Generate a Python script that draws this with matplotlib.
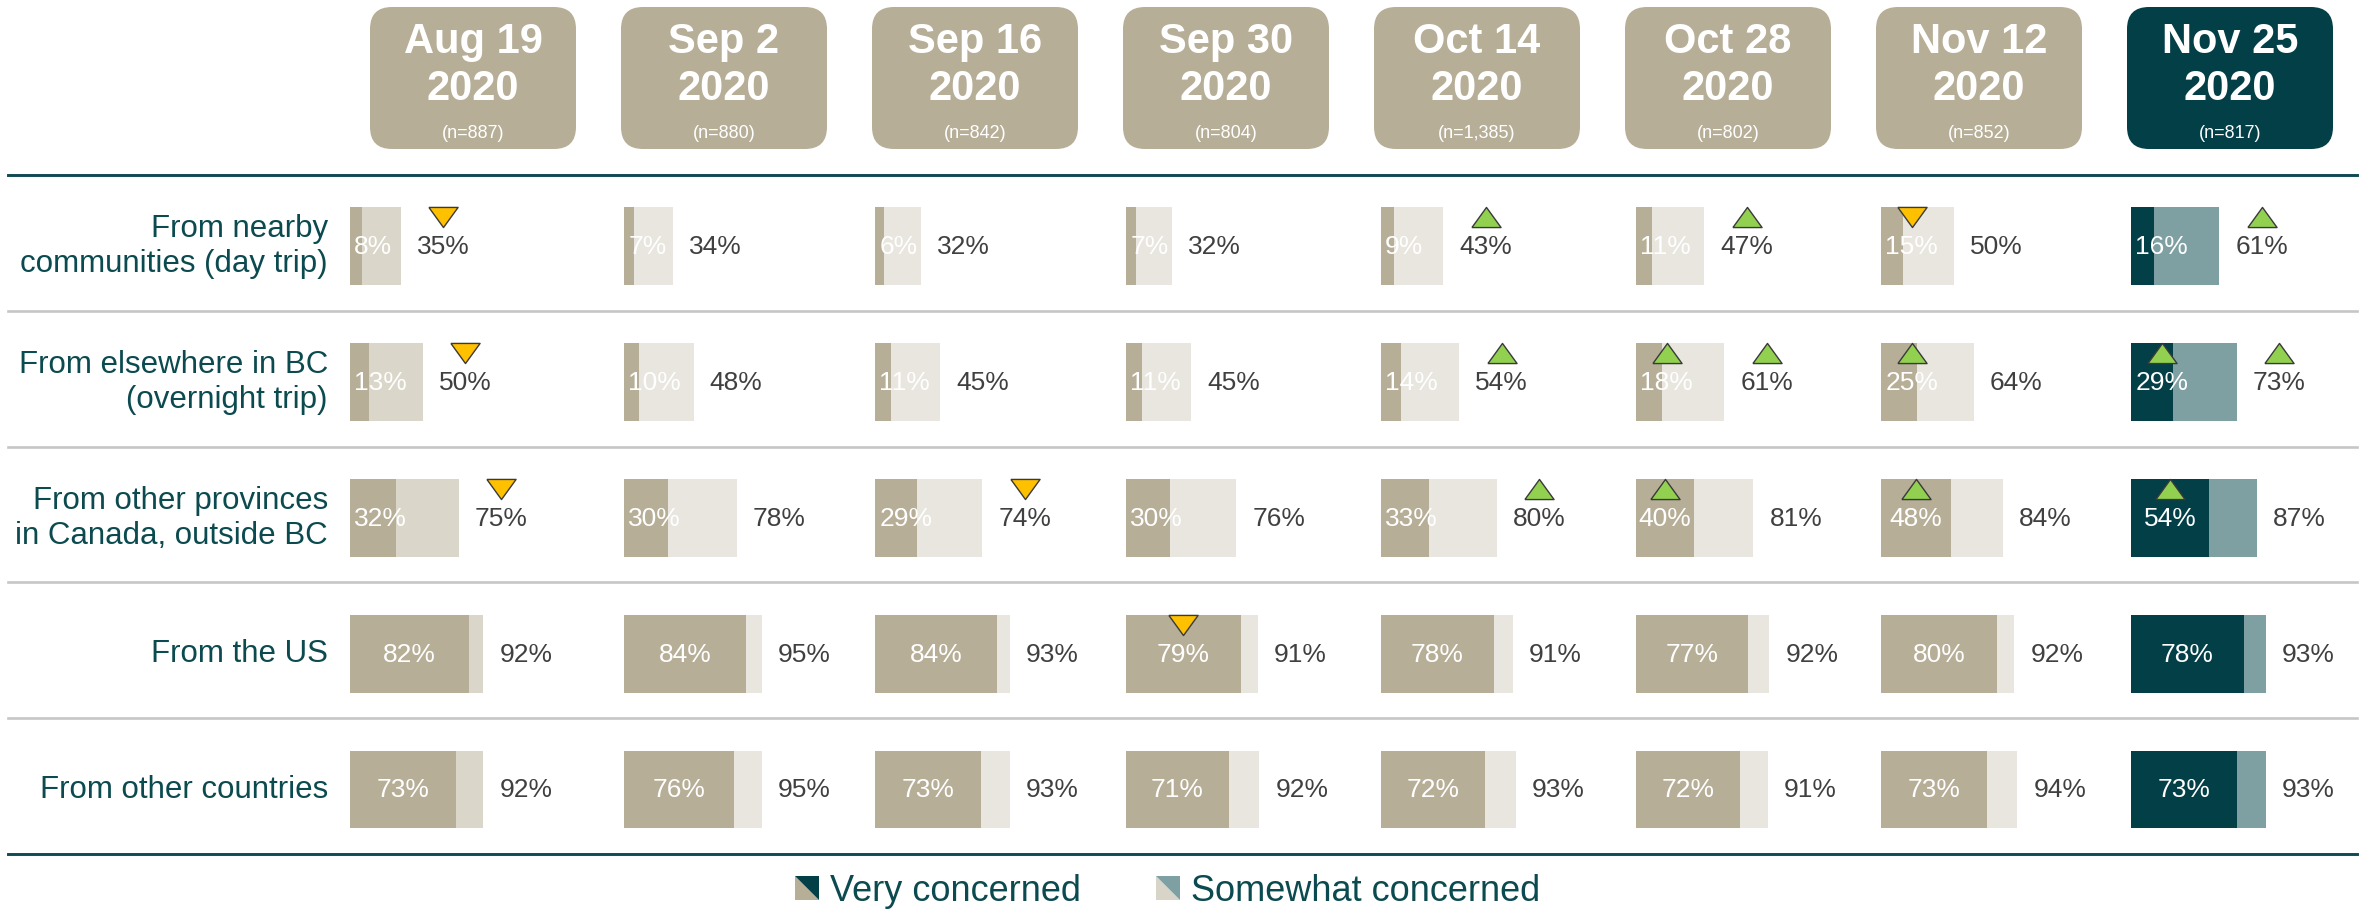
import matplotlib
matplotlib.use("Agg")
import matplotlib.pyplot as plt
import numpy as np
from matplotlib.patches import FancyBboxPatch, Polygon

# ---------------- data ----------------
dates = ["Aug 19", "Sep 2", "Sep 16", "Sep 30", "Oct 14", "Oct 28", "Nov 12", "Nov 25"]
years = ["2020"] * 8
sample_sizes = ["(n=887)", "(n=880)", "(n=842)", "(n=804)", "(n=1,385)",
                "(n=802)", "(n=852)", "(n=817)"]
row_labels = ["From nearby\ncommunities (day trip)",
              "From elsewhere in BC\n(overnight trip)",
              "From other provinces\nin Canada, outside BC",
              "From the US",
              "From other countries"]

very_nearby = [8, 7, 6, 7, 9, 11, 15, 16]
total_nearby = [35, 34, 32, 32, 43, 47, 50, 61]
very_bc = [13, 10, 11, 11, 14, 18, 25, 29]
total_bc = [50, 48, 45, 45, 54, 61, 64, 73]
very_canada = [32, 30, 29, 30, 33, 40, 48, 54]
total_canada = [75, 78, 74, 76, 80, 81, 84, 87]
very_us = [82, 84, 84, 79, 78, 77, 80, 78]
total_us = [92, 95, 93, 91, 91, 92, 92, 93]
very_other = [73, 76, 73, 71, 72, 72, 73, 73]
total_other = [92, 95, 93, 92, 93, 91, 94, 93]

# significance markers: "up" / "down" / ""
sig_very_nearby = ["", "", "", "", "", "", "down", ""]
sig_total_nearby = ["down", "", "", "", "up", "up", "", "up"]
sig_very_bc = ["", "", "", "", "", "up", "up", "up"]
sig_total_bc = ["down", "", "", "", "up", "up", "", "up"]
sig_very_canada = ["", "", "", "", "", "up", "up", "up"]
sig_total_canada = ["down", "", "down", "", "up", "", "", ""]
sig_very_us = ["", "", "", "down", "", "", "", ""]
sig_total_us = [""] * 8
sig_very_other = [""] * 8
sig_total_other = [""] * 8

very = np.array([very_nearby, very_bc, very_canada, very_us, very_other])
total = np.array([total_nearby, total_bc, total_canada, total_us, total_other])
sig_very = [sig_very_nearby, sig_very_bc, sig_very_canada, sig_very_us, sig_very_other]
sig_total = [sig_total_nearby, sig_total_bc, sig_total_canada, sig_total_us, sig_total_other]

# ---------------- style ----------------
TAN = "#B7AE97"
LIGHT = "#E8E6DF"
LIGHT_FIRST = "#DAD6CA"
TEAL = "#023F47"
TEAL_LIGHT = "#7FA0A3"
LINE_DARK = "#0E4A52"
LINE_GRAY = "#C6C6C6"
TXT = "#404040"
ROW_TXT = "#0B4A4F"
UP_C = "#92D050"
DOWN_C = "#FFC000"

plt.rcParams["font.family"] = ["Liberation Sans", "DejaVu Sans"]

W, H = 2369, 912
fig = plt.figure(figsize=(W / 100, H / 100), dpi=100)

bg = fig.add_axes([0, 0, 1, 1])
bg.set_xlim(0, W)
bg.set_ylim(H, 0)
bg.axis("off")

# layout (pixels)
box_lefts = [370, 621, 872, 1123, 1374, 1625, 1876, 2127]
box_w, box_top, box_bot = 206, 8, 150
bar_starts = [350, 624, 875, 1126, 1381, 1636, 1881, 2131]
px_per_pct = 1.45
grid_top, grid_bot = 176, 855
line_x0, line_x1 = 8, 2357
n_rows = len(row_labels)
row_h = (grid_bot - grid_top) / n_rows
dy = 0.025  # bars sit slightly below row centre

# header boxes
for j, d in enumerate(dates):
    c = TEAL if j == len(dates) - 1 else TAN
    bg.add_patch(FancyBboxPatch((box_lefts[j], box_top), box_w, box_bot - box_top,
                                boxstyle="round,pad=0,rounding_size=22",
                                fc=c, ec="none"))
    cx = box_lefts[j] + box_w / 2
    bg.text(cx, 53, d, ha="center", va="baseline", color="white",
            fontsize=30, fontweight="bold")
    bg.text(cx, 100, years[j], ha="center", va="baseline", color="white",
            fontsize=30, fontweight="bold")
    bg.text(cx, 138, sample_sizes[j], ha="center", va="baseline", color="white",
            fontsize=13)

# horizontal rules
bg.plot([line_x0, line_x1], [grid_top, grid_top], color=LINE_DARK, lw=2.1)
bg.plot([line_x0, line_x1], [grid_bot, grid_bot], color=LINE_DARK, lw=2.1)
for i in range(1, n_rows):
    y = grid_top + i * row_h
    bg.plot([line_x0, line_x1], [y, y], color=LINE_GRAY, lw=1.9)

# row labels
for i, lab in enumerate(row_labels):
    bg.text(328, grid_top + (i + 0.5) * row_h + 3, lab, ha="right", va="center",
            color=ROW_TXT, fontsize=22.5, linespacing=1.22)

# triangle markers
tri_up = [(-1, -0.69), (1, -0.69), (0, 0.69), (-1, -0.69)]
tri_down = [(-1, 0.69), (1, 0.69), (0, -0.69), (-1, 0.69)]

renderer = fig.canvas.get_renderer()
rows_idx = np.arange(n_rows)

for j in range(len(dates)):
    left = bar_starts[j] / W
    width = 100 * px_per_pct / W
    ax = fig.add_axes([left, 1 - grid_bot / H, width, (grid_bot - grid_top) / H])
    ax.set_xlim(0, 100)
    ax.set_ylim(n_rows - 0.5, -0.5)
    ax.axis("off")
    ax.patch.set_visible(False)

    last = j == len(dates) - 1
    c_very = TEAL if last else TAN
    c_some = TEAL_LIGHT if last else (LIGHT_FIRST if j == 0 else LIGHT)

    ax.barh(rows_idx + dy, very[:, j], height=0.573, color=c_very, lw=0)
    ax.barh(rows_idx + dy, total[:, j] - very[:, j], left=very[:, j], height=0.573,
            color=c_some, lw=0)

    for i in range(n_rows):
        v, t = very[i, j], total[i, j]
        yc = i + dy
        if v < 34:
            tv = ax.annotate(f"{v}%", xy=(0, yc), xytext=(3, 0),
                             textcoords="offset points", ha="left", va="center",
                             color="white", fontsize=19, annotation_clip=False)
        else:
            tv = ax.text(v / 2, yc, f"{v}%", ha="center", va="center",
                         color="white", fontsize=19, clip_on=False)
        tt = ax.annotate(f"{t}%", xy=(t, yc), xytext=(11.5, 0),
                         textcoords="offset points", ha="left", va="center",
                         color=TXT, fontsize=19, annotation_clip=False)

        for txt, s in ((tv, sig_very[i][j]), (tt, sig_total[i][j])):
            if not s:
                continue
            bb = txt.get_window_extent(renderer)
            xc = ax.transData.inverted().transform(((bb.x0 + bb.x1) / 2, 0))[0]
            ax.plot(xc, yc - 0.214, marker=tri_up if s == "up" else tri_down,
                    markersize=21, color=UP_C if s == "up" else DOWN_C,
                    markeredgecolor="#3A3A3A", markeredgewidth=1.0,
                    clip_on=False, zorder=5)

# legend
leg_base = 901
items = [("Very concerned", TAN, TEAL, 795), ("Somewhat concerned", "#D8D4C8", TEAL_LIGHT, 1156)]
for lab, c_lo, c_hi, x0 in items:
    s = 24
    y0, y1 = 877, 877 + s
    bg.add_patch(Polygon([(x0, y0), (x0, y1), (x0 + s, y1)],
                         closed=True, fc=c_lo, ec="none"))
    bg.add_patch(Polygon([(x0, y0), (x0 + s, y0), (x0 + s, y1)],
                         closed=True, fc=c_hi, ec="none"))
    bg.text(x0 + s + 11, leg_base, lab, ha="left", va="baseline", color=ROW_TXT, fontsize=26)

fig.savefig("out.png", dpi=100)
